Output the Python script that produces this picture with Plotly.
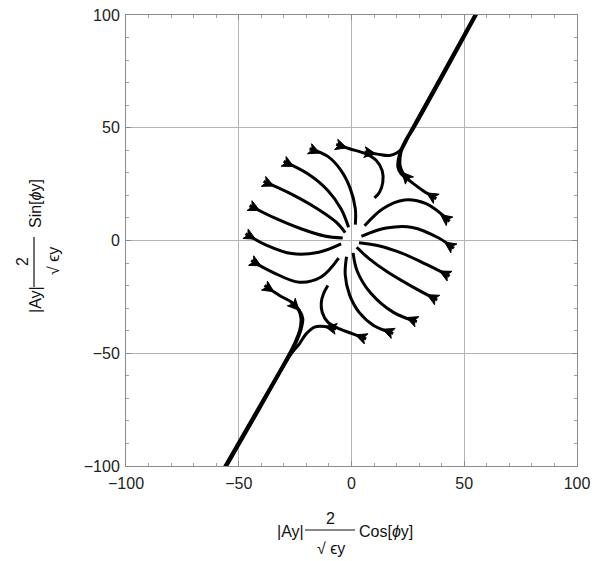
import math
import plotly.graph_objects as go

# ---- trajectories (data units), each listed from its arrowhead end ----
a_x = [-6.8, -0.9, 6.5, 11.0, 13.6, 13.9, 12.4, 10.2]
a_y = [42.6, 40.7, 38.4, 35.5, 31.0, 25.9, 21.4, 18.9]
a2_x = [5.8, 11.5, 16.9, 20.0, 22.5, 26.5, 40.5, 55.0]
a2_y = [39.2, 38.3, 37.7, 38.8, 41.0, 48.8, 74.2, 100.5]
a3_x = [37.6, 31.6, 25.7, 22.0, 20.6, 21.3, 23.5, 26.5, 40.8, 55.2]
a3_y = [18.5, 22.2, 26.6, 29.6, 32.5, 38.4, 43.6, 48.8, 74.4, 100.5]
a4_x = [25.7, 23.0, 21.6, 21.8, 23.8, 27.0, 41.2, 55.6]
a4_y = [26.6, 29.6, 33.0, 38.4, 43.6, 48.8, 74.2, 100.5]

b1_x = [-18.6, -10.5, -4.6, -0.5, 1.7, 1.7]
b1_y = [40.7, 37.3, 31.0, 22.9, 14.0, 7.0]
b2_x = [-30.1, -19.4, -10.5, -4.6, -1.3]
b2_y = [35.1, 29.6, 22.2, 14.0, 5.9]
b3_x = [-39.0, -27.5, -15.7, -6.8, -2.8]
b3_y = [26.2, 21.0, 14.4, 8.1, 3.5]
b4_x = [-45.2, -34.1, -22.4, -12.0, -3.9]
b4_y = [15.5, 10.0, 5.2, 2.0, 1.1]
b5_x = [-47.0, -37.8, -26.5, -14.5, -4.6]
b5_y = [3.0, -2.0, -5.8, -5.2, -1.5]
b6_x = [-44.5, -34.9, -23.1, -13.5, -5.7]
b6_y = [-8.9, -14.1, -18.5, -16.2, -7.8]
b7_x = [-38.6, -31.9, -26.7, -23.1, -21.6, -22.3, -24.5, -27.5, -41.5, -56.0]
b7_y = [-20.0, -24.4, -27.3, -31.0, -34.7, -39.2, -45.1, -51.0, -75.5, -100.5]
b7b_x = [-26.7, -23.6, -22.4, -22.9, -25.0, -28.0, -42.0, -56.4]
b7b_y = [-27.3, -30.6, -34.5, -39.5, -45.0, -51.0, -75.5, -100.5]
b8_x = [6.5, 0.6, -5.3, -10.5, -13.0, -13.4, -12.4, -10.5]
b8_y = [-43.6, -41.4, -39.2, -36.2, -31.8, -27.4, -23.6, -20.0]
b8b_x = [-6.8, -11.5, -16.4, -20.1, -23.1, -26.7, -41.0, -55.6]
b8b_y = [-39.2, -38.2, -38.4, -41.4, -45.8, -50.2, -75.0, -100.5]

rb_x = [43.5, 33.1, 23.5, 13.9, 5.8]
rb_y = [8.5, 16.3, 18.0, 14.1, 6.5]
rc_x = [45.4, 38.5, 27.0, 15.4, 4.4]
rc_y = [-3.5, 1.2, 5.8, 5.5, 1.8]
rd_x = [43.5, 33.0, 22.0, 12.0, 3.3]
rd_y = [-15.8, -10.5, -5.5, -2.3, -1.0]
re_x = [38.0, 27.5, 16.0, 7.5, 2.3]
re_y = [-26.4, -20.8, -14.0, -7.8, -3.0]
rf_x = [29.0, 18.8, 8.5, 2.5, 0.7]
rf_y = [-36.0, -32.0, -23.3, -13.5, -5.5]
rg_x = [18.5, 10.0, 3.5, -0.9, -2.8, -2.2]
rg_y = [-41.2, -37.8, -32.0, -24.0, -15.0, -7.2]

curves = [
    (a_x, a_y), (a2_x, a2_y), (a3_x, a3_y), (a4_x, a4_y),
    (b1_x, b1_y), (b2_x, b2_y), (b3_x, b3_y), (b4_x, b4_y),
    (b5_x, b5_y), (b6_x, b6_y), (b7_x, b7_y), (b7b_x, b7b_y),
    (b8_x, b8_y), (b8b_x, b8b_y),
    (rb_x, rb_y), (rc_x, rc_y), (rd_x, rd_y), (re_x, re_y),
    (rf_x, rf_y), (rg_x, rg_y),
]

axis_ticks = [-100, -50, 0, 50, 100]
axis_range = [-100, 100]

FONT = "Liberation Sans, Arial, sans-serif"
fig = go.Figure()

for xs, ys in curves:
    fig.add_trace(go.Scatter(
        x=xs, y=ys, mode="lines",
        line=dict(color="black", width=3.0, shape="spline", smoothing=1.0),
        hoverinfo="skip", showlegend=False))

# arrowheads at the starting point of each trajectory (wide back at the outer end)
AL, AW = 5.0, 2.4
for xs, ys in curves:
    x0, y0 = xs[0], ys[0]
    dx, dy = xs[1] - x0, ys[1] - y0
    n = math.hypot(dx, dy)
    ux, uy = dx / n, dy / n
    px_, py_ = -uy, ux
    tipx, tipy = x0 + AL * ux, y0 + AL * uy
    nx, ny = x0 + 0.25 * AL * ux, y0 + 0.25 * AL * uy
    tx = [tipx, x0 + AW * px_, nx, x0 - AW * px_, tipx]
    ty = [tipy, y0 + AW * py_, ny, y0 - AW * py_, tipy]
    fig.add_trace(go.Scatter(
        x=tx, y=ty, mode="lines", fill="toself", fillcolor="black",
        line=dict(color="black", width=1), hoverinfo="skip", showlegend=False))

axis_common = dict(
    range=axis_range, tickvals=axis_ticks, showgrid=True,
    gridcolor="#b4b4b4", gridwidth=1, zeroline=False,
    showline=True, linecolor="#8c8c8c", linewidth=1, mirror="allticks",
    ticks="inside", ticklen=5, tickcolor="#8c8c8c",
    minor=dict(dtick=10, ticks="inside", ticklen=3, tickcolor="#a0a0a0", showgrid=False),
    tickfont=dict(family=FONT, size=16, color="#222"),
    fixedrange=True, automargin=False,
)
fig.update_xaxes(**axis_common, ticklabelstandoff=3)
fig.update_yaxes(**axis_common, ticklabelstandoff=2)

L0, T0, PW, PH = 126, 15, 451, 451
def xp(px):
    return (px - L0) / PW
def yp(py):
    return (T0 + PH - py) / PH

tf = dict(family=FONT, size=16, color="#111")
ann = []
# x-axis title: |Ay| (2 / sqrt(eps y)) Cos[phi y]
ann.append(dict(x=xp(290), y=yp(531), text="|Ay|", xanchor="center", yanchor="middle"))
ann.append(dict(x=xp(330), y=yp(518), text="2", xanchor="center", yanchor="middle"))
ann.append(dict(x=xp(331), y=yp(548), text="√ ϵy", xanchor="center", yanchor="middle"))
ann.append(dict(x=xp(357), y=yp(531), text="Cos[<i>ϕ</i>y]", xanchor="left", yanchor="middle"))
# y-axis title (rotated)
ann.append(dict(x=xp(35), y=yp(300), text="|Ay|", xanchor="center", yanchor="middle", textangle=-90))
ann.append(dict(x=xp(22), y=yp(262), text="2", xanchor="center", yanchor="middle", textangle=-90))
ann.append(dict(x=xp(53), y=yp(261), text="√ ϵy", xanchor="center", yanchor="middle", textangle=-90))
ann.append(dict(x=xp(35), y=yp(204), text="Sin[<i>ϕ</i>y]", xanchor="center", yanchor="middle", textangle=-90))
for a in ann:
    a.update(xref="paper", yref="paper", showarrow=False, font=tf)

shapes = [
    dict(type="line", xref="paper", yref="paper", x0=xp(305), x1=xp(355), y0=yp(530), y1=yp(530),
         line=dict(color="#111", width=1.2)),
    dict(type="line", xref="paper", yref="paper", x0=xp(34), x1=xp(34), y0=yp(237), y1=yp(287),
         line=dict(color="#111", width=1.2)),
]

fig.update_layout(
    width=593, height=561, autosize=False,
    margin=dict(l=L0, r=593 - L0 - PW, t=T0, b=561 - T0 - PH),
    paper_bgcolor="white", plot_bgcolor="white",
    annotations=ann, shapes=shapes, showlegend=False,
)

fig.write_html("out.html")
